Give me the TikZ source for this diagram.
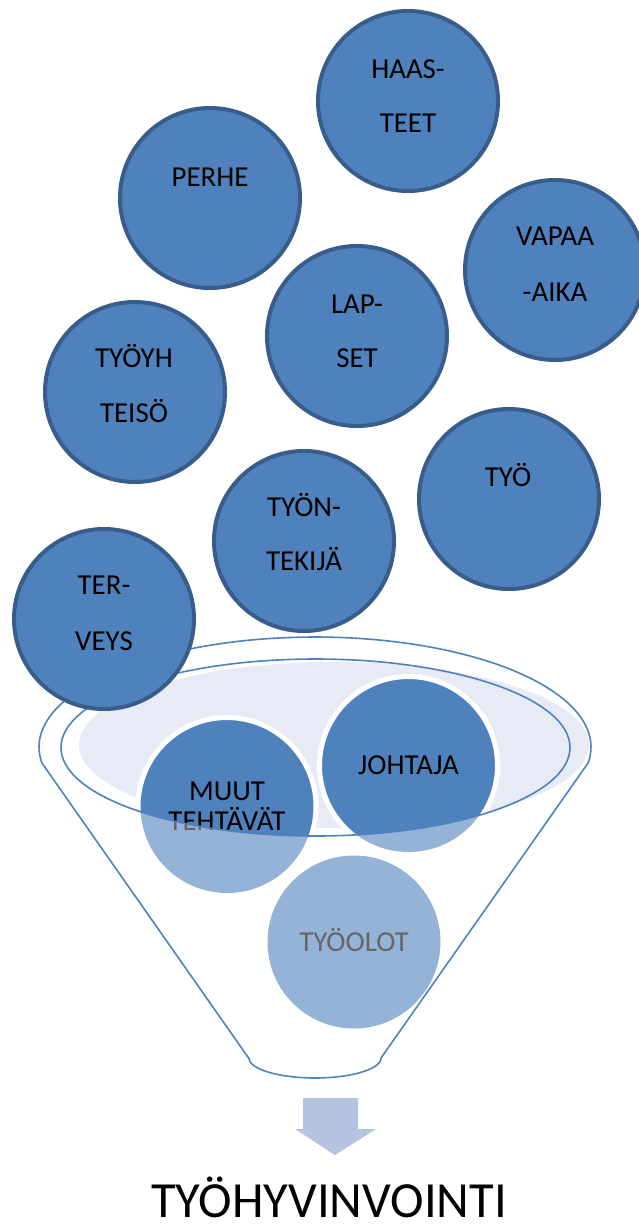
\documentclass[tikz,border=0pt]{standalone}
\usepackage{fontspec}
\setmainfont{Carlito}
\definecolor{bubblefill}{HTML}{4F81BD}
\definecolor{bubbleedge}{HTML}{385D8A}
\definecolor{bubblepale}{HTML}{95B3D7}
\definecolor{funnelhaze}{HTML}{E7EBF5}
\definecolor{arrowfill}{HTML}{B3C3E0}
\begin{document}
\begin{tikzpicture}[x=1pt,y=-1pt,
  bubble/.style={circle, fill=bubblefill, draw=bubbleedge, line width=4pt,
                 minimum size=180pt, inner sep=0pt},
  word/.style={font=\fontsize{28.9}{30}\selectfont, text height=18.6pt,
               text depth=0pt, inner sep=0pt},
  inball/.style={circle, fill=bubblefill, draw=white, line width=5pt,
                 minimum size=178pt, inner sep=0pt},
  paleball/.style={circle, fill=bubblepale, minimum size=173pt, inner sep=0pt},
  paleword/.style={word, text=black!60},
  funnelline/.style={draw=bubblefill, line width=1.6pt}]
\useasboundingbox (0,0) rectangle (639,1224);

% haze inside the funnel mouth
\fill[funnelhaze] (334,745) ellipse [x radius=255, y radius=83];

% funnel body: rim, sides and spout
\draw[funnelline, line join=round] (248.6,1058)
  -- plot[domain=171.6:368.4, samples=90] ({315+276*cos(\x)},{747+110*sin(\x)})
  -- plot[domain=0:180, samples=40] ({315+66*cos(\x)},{1058+20*sin(\x)})
  -- cycle;

% balls seen through the funnel wall
\node[paleball] (muut-p) at (227,806.5) {};
\node[paleball] (johtaja-p) at (408.5,765.5) {};
\node[paleball] (tyoolot) at (354,942) {};
\node[paleword] (muut-p1) at (227,791) {MUUT};
\node[paleword] (muut-p2) at (227,821) {TEHTÄVÄT};
\node[paleword] (johtaja-pw) at (408.5,765) {JOHTAJA};
\node[paleword] (tyoolot-w) at (354,942) {TYÖOLOT};

% balls inside the funnel mouth
\begin{scope}
  \clip (315.5,747.5) ellipse [x radius=254.5, y radius=88.5];
  \node[inball] (muut) at (227,806.5) {};
  \node[inball] (johtaja) at (408.5,765.5) {};
  \node[word] (muut-1) at (227,791) {MUUT};
  \node[word] (muut-2) at (227,821) {TEHTÄVÄT};
  \node[word] (johtaja-w) at (408.5,765) {JOHTAJA};
\end{scope}

% inner rim of the mouth
\draw[funnelline] (315.5,747.5) ellipse [x radius=254.5, y radius=88.5];

% factors falling into the funnel
\node[bubble] (haasteet) at (408,101) {};
\node[word] (haasteet-1) at (408,69) {HAAS-};
\node[word] (haasteet-2) at (408,123) {TEET};

\node[bubble] (perhe) at (210,198) {};
\node[word] (perhe-1) at (210,177) {PERHE};

\node[bubble] (vapaa) at (555,270) {};
\node[word] (vapaa-1) at (555,236.5) {VAPAA};
\node[word] (vapaa-2) at (555,292) {-AIKA};

\node[bubble] (lapset) at (357,336) {};
\node[word] (lapset-1) at (357,304) {LAP-};
\node[word] (lapset-2) at (357,358) {SET};

\node[bubble] (tyoyhteiso) at (135,392) {};
\node[word] (tyoyhteiso-1) at (134,358.6) {TYÖYH};
\node[word] (tyoyhteiso-2) at (134,413.2) {TEISÖ};

\node[bubble] (tyo) at (509,499) {};
\node[word] (tyo-1) at (508,477) {TYÖ};

\node[bubble] (tyontekija) at (304,541) {};
\node[word] (tyontekija-1) at (304,507.3) {TYÖN-};
\node[word] (tyontekija-2) at (304,561.5) {TEKIJÄ};

\node[bubble] (terveys) at (104,619) {};
\node[word] (terveys-1) at (104,585.2) {TER-};
\node[word] (terveys-2) at (104,640.7) {VEYS};

% outcome
\fill[arrowfill] (303,1098) -- (358,1098) -- (358,1129) -- (376,1129)
  -- (335,1155) -- (295,1129) -- (303,1129) -- cycle;
\node[font=\fontsize{50.6}{52}\selectfont, text height=32.6pt, text depth=0pt,
      inner sep=0pt] (tyohyvinvointi) at (329,1201.5) {TYÖHYVINVOINTI};
\end{tikzpicture}
\end{document}
